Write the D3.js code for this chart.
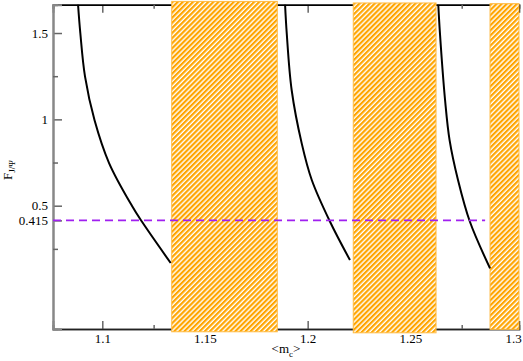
<!DOCTYPE html>
<html>
<head>
<meta charset="utf-8">
<style>
body { margin: 0; background: #fff; }
svg { display: block; }
.tick text { font-family: "Liberation Serif", "Times New Roman", serif; font-size: 13px; fill: #000; }
.lbl { font-family: "Liberation Serif", "Times New Roman", serif; fill: #000; }
</style>
</head>
<body>
<svg id="svg"></svg>
<script src="https://cdn.jsdelivr.net/npm/d3@7"></script>
<script>
// curves: <m_c> (x) vs F_J/psi (y), one per branch
var curve1X = [1.0882, 1.0893, 1.0916, 1.0962, 1.1033, 1.1145, 1.1191, 1.1333]
var curve1Y = [1.664, 1.5, 1.247, 0.996, 0.747, 0.498, 0.411, 0.168]
var curve2X = [1.1890, 1.1898, 1.1922, 1.1971, 1.2020, 1.2109, 1.2206]
var curve2Y = [1.664, 1.5, 1.170, 0.861, 0.649, 0.407, 0.185]
var curve3X = [1.2636, 1.2644, 1.2669, 1.2691, 1.2732, 1.2790, 1.2888]
var curve3Y = [1.664, 1.5, 1.112, 0.880, 0.649, 0.407, 0.1375]

// excluded (hatched) bands
var bandX0 = [1.1338, 1.2222, 1.2888]
var bandX1 = [1.1852, 1.2625, 1.3029]
var bandY0 = [-0.23, -0.236, -0.216]
var bandY1 = [1.683, 1.674, 1.67]

var refLevel = 0.415
var refX = [1.076, 1.2864]

var xMajor = [1.1, 1.15, 1.2, 1.25, 1.3]
var xMinor = [1.125, 1.175, 1.225, 1.275]
var yMajor = [0.415, 0.5, 1, 1.5]
var yMinor = [0.25, 0.75, 1.25]
var xDomain = [1.076, 1.3029]
var yDomain = [-0.214, 1.664]

var W = 523, H = 361
var pLeft = 53, pRight = 519, pTop = 4.7, pBottom = 329

var svg = d3.select("#svg").attr("width", W).attr("height", H)

var x = d3.scaleLinear().domain(xDomain).range([pLeft, pRight])
var y = d3.scaleLinear().domain(yDomain).range([pBottom, pTop])

var defs = svg.append("defs")
var pat = defs.append("pattern")
    .attr("id", "hatch")
    .attr("patternUnits", "userSpaceOnUse")
    .attr("width", 3.6).attr("height", 3.6)
    .attr("patternTransform", "rotate(45)")
pat.append("rect").attr("width", 3.6).attr("height", 3.6).attr("fill", "#fff")
pat.append("rect").attr("width", 2.2).attr("height", 3.6).attr("fill", "#ffa500")

// axes
var gx = svg.append("g").attr("transform", "translate(0," + pBottom + ")")
    .call(d3.axisBottom(x).tickValues(xMajor).tickSize(-8).tickPadding(5).tickFormat(d => String(d)))
gx.append("g").call(d3.axisBottom(x).tickValues(xMinor).tickSize(-4).tickFormat(""))
gx.selectAll(".domain").attr("stroke", "#222").attr("stroke-width", 1.5)
gx.selectAll(".tick line").attr("stroke", "#666").attr("stroke-width", 1.5)

var gt = svg.append("g").attr("transform", "translate(0," + pTop + ")")
    .call(d3.axisTop(x).tickValues(xMajor).tickSize(-8).tickFormat(""))
gt.append("g").call(d3.axisTop(x).tickValues(xMinor).tickSize(-4).tickFormat(""))
gt.selectAll(".domain").attr("stroke", "#000").attr("stroke-width", 1.5)
gt.selectAll(".tick line").attr("stroke", "#666").attr("stroke-width", 1.5)

var gy = svg.append("g").attr("transform", "translate(" + pLeft + ",0)")
    .call(d3.axisLeft(y).tickValues(yMajor).tickSize(-9).tickPadding(5).tickFormat(d => String(d)))
gy.append("g").call(d3.axisLeft(y).tickValues(yMinor).tickSize(-5).tickFormat(""))
gy.selectAll(".domain").attr("stroke", "#888").attr("stroke-width", 2)
gy.selectAll(".tick line").attr("stroke", "#666").attr("stroke-width", 1.5)

// hatched bands
svg.append("g").selectAll("rect")
    .data(bandX0)
    .enter().append("rect")
    .attr("x", (d, i) => x(d))
    .attr("y", (d, i) => y(bandY1[i]))
    .attr("width", (d, i) => x(bandX1[i]) - x(d))
    .attr("height", (d, i) => y(bandY0[i]) - y(bandY1[i]))
    .attr("fill", "url(#hatch)")
    .attr("stroke", "#ffbb44")
    .attr("stroke-width", 1)

// curves
var line = d3.line()
    .x(d => x(d[0]))
    .y(d => y(d[1]))
    .curve(d3.curveCatmullRom.alpha(0.5))
;[[curve1X, curve1Y], [curve2X, curve2Y], [curve3X, curve3Y]].forEach(function(c) {
    svg.append("path")
        .attr("d", line(c[0].map((v, i) => [v, c[1][i]])))
        .attr("fill", "none")
        .attr("stroke", "#000")
        .attr("stroke-width", 2)
})

// reference level
svg.append("line")
    .attr("x1", x(refX[0])).attr("x2", x(refX[1]))
    .attr("y1", y(refLevel)).attr("y2", y(refLevel))
    .attr("stroke", "#a020f0")
    .attr("stroke-width", 1.8)
    .attr("stroke-dasharray", "8,5")

// axis labels
var xl = svg.append("text").attr("class", "lbl")
    .attr("x", 286).attr("y", 353)
    .attr("text-anchor", "middle")
    .style("font-size", "13px")
xl.append("tspan").text("<m")
xl.append("tspan").attr("dy", 4).style("font-size", "9px").text("c")
xl.append("tspan").attr("dy", -4).text(">")

var yl = svg.append("text").attr("class", "lbl")
    .attr("transform", "translate(12,180) rotate(-90)")
    .style("font-size", "13px")
yl.append("tspan").text("F")
yl.append("tspan").attr("dy", 3).style("font-size", "9px").text("J/\u03A8")
</script>
</body>
</html>
